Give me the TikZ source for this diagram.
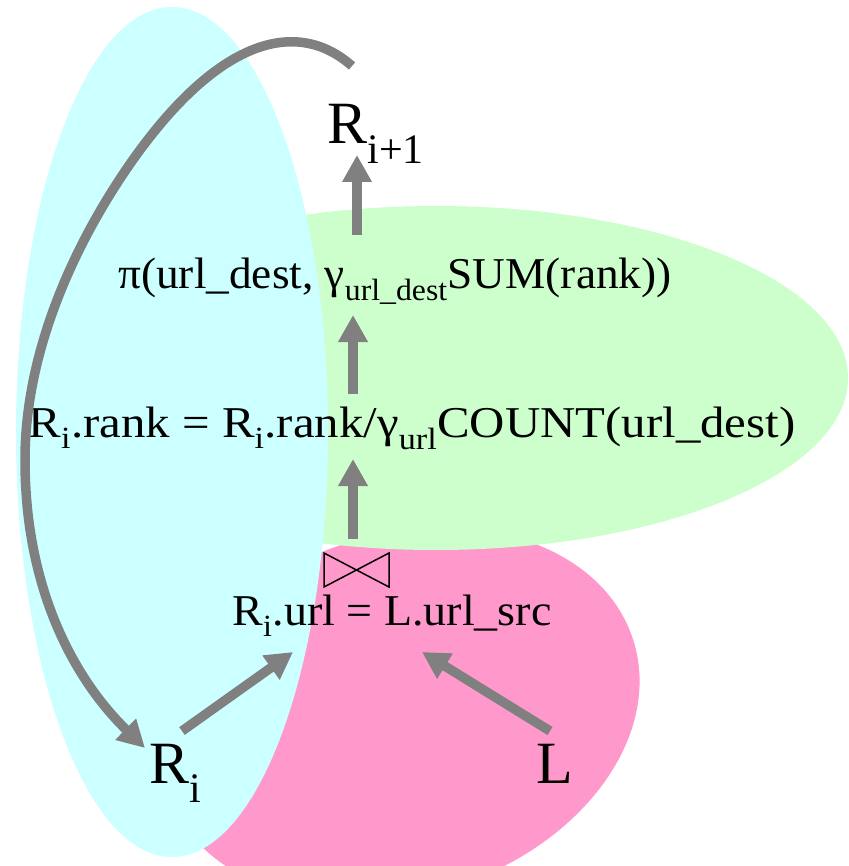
\documentclass[tikz,border=0pt]{standalone}
\usepackage{fontspec}
\setmainfont{Liberation Serif}
\usetikzlibrary{arrows.meta}
\definecolor{cyanfill}{RGB}{204,255,255}
\definecolor{greenfill}{RGB}{204,255,204}
\definecolor{pinkfill}{RGB}{255,153,204}
\definecolor{arrgray}{RGB}{128,128,128}
\tikzset{
  arr/.style={draw=arrgray, line width=9.5pt, -{Triangle[length=27pt,width=28pt]}},
  expr/.style={inner sep=0pt, anchor=base, font=\fontsize{44}{50}\selectfont},
  rel/.style={inner sep=0pt, anchor=base, font=\fontsize{60}{70}\selectfont},
}
\begin{document}
\begin{tikzpicture}[x=1pt,y=-1pt]
\useasboundingbox (0,0) rectangle (848,866);
% blobs
\fill[pinkfill, rotate around={18:(400,715)}] (400,715) ellipse [x radius=245, y radius=180];
\fill[greenfill] (436,378) ellipse [x radius=412, y radius=172];
\fill[cyanfill] (172,432) ellipse [x radius=156, y radius=425];
% texts
\node[rel] (Rip1) at (376,144) {R\textsubscript{i+1}};
\node[expr] (proj) at (395,288) {\scalebox{1.03}[1]{π(url\_dest, γ\textsubscript{url\_dest}SUM(rank))}};
\node[expr] (upd) at (412,437) {\scalebox{1.11}[1]{R\textsubscript{i}.rank = R\textsubscript{i}.rank/γ\textsubscript{url}COUNT(url\_dest)}};
\node[expr] (join) at (392,625) {\scalebox{1.045}[1]{R\textsubscript{i}.url = L.url\_src}};
\node[rel] (Ri) at (176,783) {R\textsubscript{i}};
\node[rel] (L) at (555,783) {L};
% bowtie
\draw[line width=1.5pt] (324,553) -- (389,587) -- (389,553) -- (324,587) -- cycle;
% arrow end points
\coordinate (t1) at (357,235); \coordinate (h1) at (357,155);
\coordinate (t2) at (353,394); \coordinate (h2) at (353,315);
\coordinate (t3) at (353,539); \coordinate (h3) at (353,459);
\coordinate (tR) at (182,731); \coordinate (hR) at (293,652);
\coordinate (tL) at (550,731); \coordinate (hL) at (422,652);
\coordinate (loopstart) at (352,66);
\coordinate (loopa) at (140,150);
\coordinate (loopb) at (25,460);
\coordinate (loopend) at (145,748);
\draw[arr] (loopstart) .. controls (300,20) and (225,35) .. (loopa)
  .. controls (95,211) and (25,330) .. (loopb)
  .. controls (25,590) and (75,680) .. (loopend);
\draw[arr] (t1) -- (h1);
\draw[arr] (t2) -- (h2);
\draw[arr] (t3) -- (h3);
\draw[arr] (tR) -- (hR);
\draw[arr] (tL) -- (hL);
\end{tikzpicture}
\end{document}
